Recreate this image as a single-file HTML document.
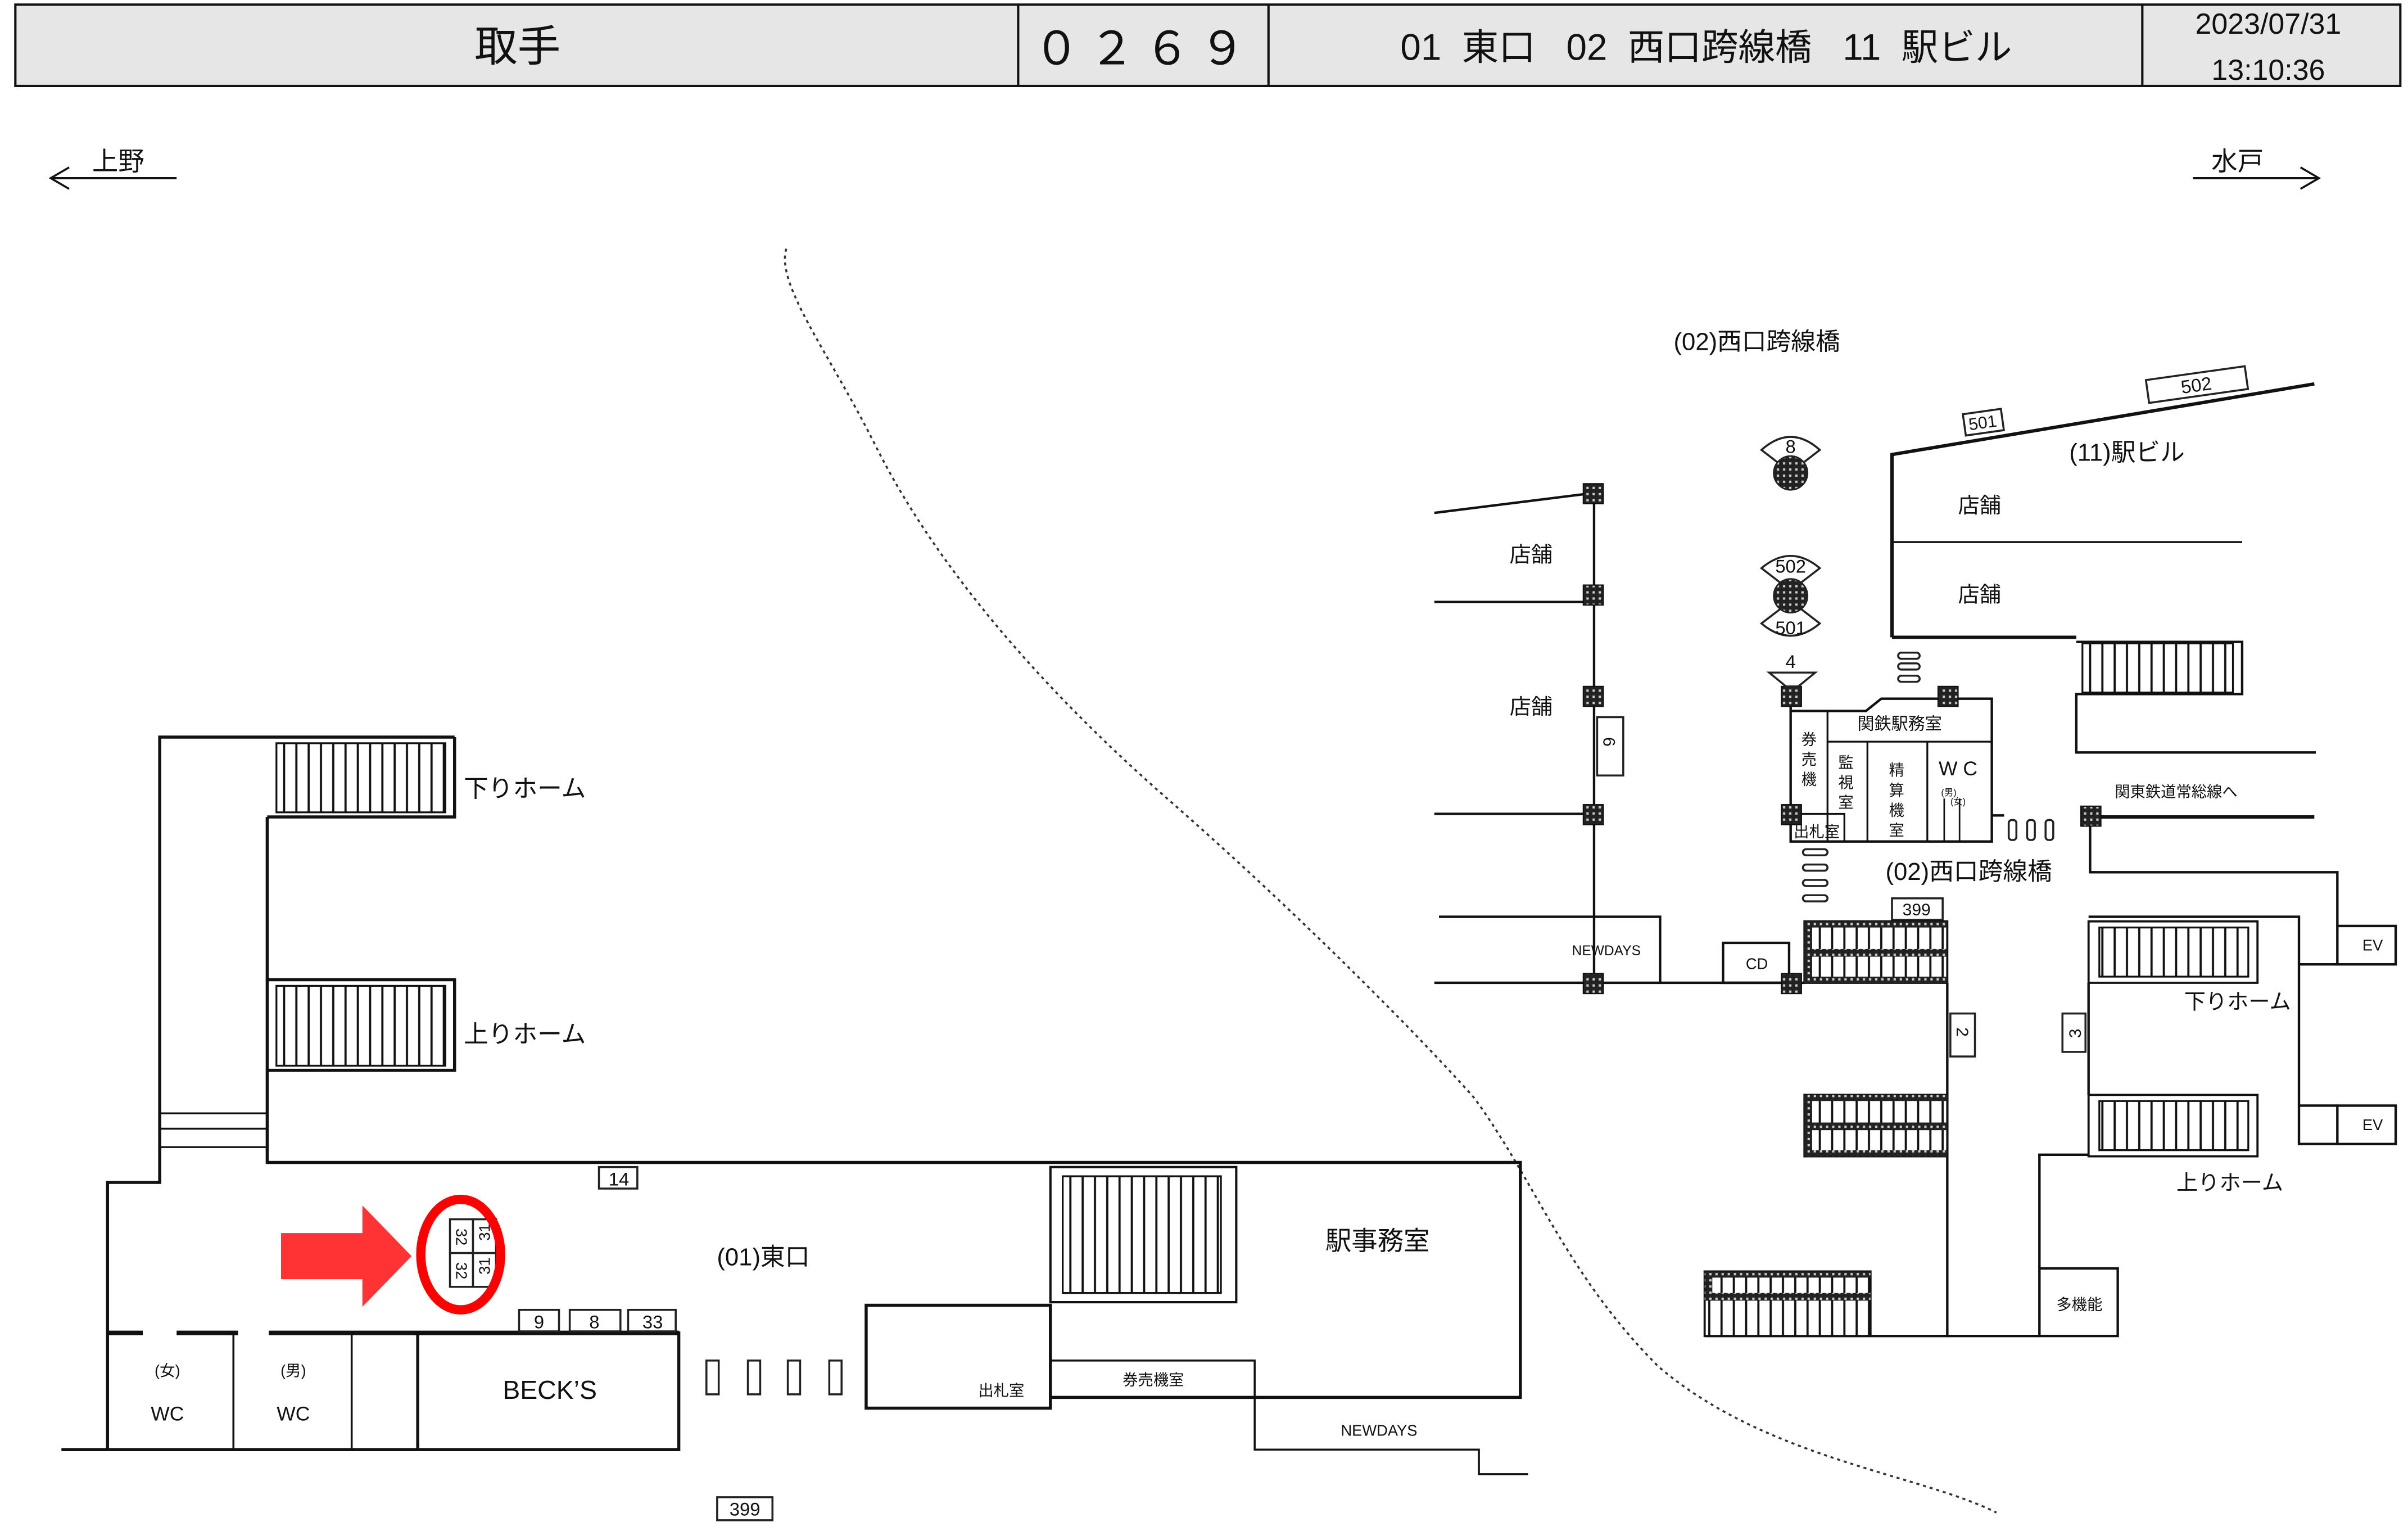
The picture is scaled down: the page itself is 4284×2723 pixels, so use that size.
<!DOCTYPE html>
<html><head><meta charset="utf-8"><style>
html,body{margin:0;padding:0;background:#fff;}
svg{display:block;}
text{font-family:"Liberation Sans","Noto Sans CJK JP",sans-serif;fill:#111;}
</style></head><body>
<svg width="4284" height="2723" viewBox="0 0 1568 997" preserveAspectRatio="none" xmlns="http://www.w3.org/2000/svg">
<defs>
<pattern id="st" width="8" height="10" patternUnits="userSpaceOnUse"><rect width="8" height="10" fill="#fff"/><line x1="1" y1="0" x2="1" y2="10" stroke="#111" stroke-width="1.4"/></pattern>
<pattern id="dk" width="4" height="4" patternUnits="userSpaceOnUse"><rect width="4" height="4" fill="#222"/><rect x="1" y="1" width="1.5" height="1.5" fill="#ccc"/></pattern>
</defs>
<rect width="1568" height="997" fill="#fff"/>
<!-- header -->
<rect x="10" y="3" width="1553" height="53" fill="#e6e6e6" stroke="#111" stroke-width="1.5"/>
<g stroke="#111" stroke-width="1.5"><line x1="663" y1="3" x2="663" y2="56"/><line x1="826" y1="3" x2="826" y2="56"/><line x1="1395" y1="3" x2="1395" y2="56"/></g>
<text x="337" y="40" font-size="28" text-anchor="middle">取手</text>
<text x="745" y="42" font-size="30" text-anchor="middle" letter-spacing="6">０２６９</text>
<text x="1111" y="39" font-size="24" text-anchor="middle" xml:space="preserve">01  東口   02  西口跨線橋   11  駅ビル</text>
<text x="1477" y="22" font-size="19" text-anchor="middle">2023/07/31</text>
<text x="1477" y="52" font-size="19" text-anchor="middle">13:10:36</text>
<!-- direction arrows -->
<g stroke="#111" stroke-width="1.3" fill="none">
<line x1="33" y1="116" x2="115" y2="116"/><polyline points="45,109 33,116 45,123"/>
<line x1="1428" y1="116" x2="1510" y2="116"/><polyline points="1498,109 1510,116 1498,123"/></g>
<text x="60" y="111" font-size="17">上野</text>
<text x="1440" y="111" font-size="17">水戸</text>
<!-- dotted curve -->
<path d="M512,162 C505,185 540,230 570,290 C610,370 680,450 760,520 C840,590 920,670 960,715 C1000,770 1020,830 1080,890 C1150,950 1250,960 1300,985" fill="none" stroke="#333" stroke-width="1.3" stroke-dasharray="2,2.5"/>
<!-- LEFT -->
<g stroke="#111" stroke-width="2" fill="none">
<polyline points="296,480 104,480 104,770 70,770 70,944"/>
<line x1="40" y1="944" x2="442" y2="944"/>
<polyline points="174,532 174,757 990,757 990,910 684,910"/>
<line x1="104" y1="725" x2="174" y2="725" stroke-width="1.2"/>
<line x1="104" y1="735" x2="174" y2="735" stroke-width="1.2"/>
<line x1="104" y1="747" x2="174" y2="747" stroke-width="1.2"/>
<polyline points="174,532 296,532 296,480"/>
<polyline points="174,638 296,638 296,697 174,697"/>
<line x1="70" y1="868" x2="93" y2="868" stroke-width="3"/>
<line x1="115" y1="868" x2="155" y2="868" stroke-width="3"/>
<line x1="175" y1="868" x2="442" y2="868" stroke-width="3"/>
<rect x="272" y="868" width="170" height="76"/>
<line x1="152" y1="868" x2="152" y2="944" stroke-width="1.3"/>
<line x1="229" y1="868" x2="229" y2="944" stroke-width="1.3"/>
<rect x="564" y="850" width="120" height="67"/>
<rect x="684" y="886" width="133" height="24" stroke-width="1.3"/>
<polyline points="817,910 817,944 963,944 963,960 995,960" stroke-width="1.3"/>
</g>
<rect x="180" y="484" width="110" height="45" fill="url(#st)" stroke="#111" stroke-width="1.2"/>
<rect x="180" y="642" width="110" height="52" fill="url(#st)" stroke="#111" stroke-width="1.2"/>
<rect x="684" y="760" width="121" height="88" fill="none" stroke="#111" stroke-width="1.5"/>
<rect x="692" y="766" width="103" height="76" fill="url(#st)" stroke="#111" stroke-width="1.2"/>
<text x="302" y="519" font-size="16">下りホーム</text>
<text x="302" y="679" font-size="16">上りホーム</text>
<g fill="#fff" stroke="#222" stroke-width="1.3">
<rect x="390" y="760" width="25" height="14"/><rect x="338" y="853" width="26" height="14"/><rect x="371" y="853" width="33" height="14"/><rect x="409" y="853" width="31" height="14"/>
<rect x="293" y="794" width="15" height="22"/><rect x="293" y="816" width="15" height="22"/><rect x="308" y="794" width="15" height="22"/><rect x="308" y="816" width="15" height="22"/>
<rect x="460" y="886" width="8" height="22"/><rect x="487" y="886" width="8" height="22"/><rect x="513" y="886" width="8" height="22"/><rect x="540" y="886" width="8" height="22"/>
<rect x="467" y="975" width="36" height="15"/>
</g>
<text x="403" y="772" font-size="12" text-anchor="middle">14</text>
<text x="351" y="865" font-size="12" text-anchor="middle">9</text>
<text x="387" y="865" font-size="12" text-anchor="middle">8</text>
<text x="425" y="865" font-size="12" text-anchor="middle">33</text>
<text x="485" y="987" font-size="12" text-anchor="middle">399</text>
<text font-size="10" transform="translate(297,800) rotate(90)">32</text>
<text font-size="10" transform="translate(297,822) rotate(90)">32</text>
<text font-size="10" transform="translate(319,808) rotate(-90)">31</text>
<text font-size="10" transform="translate(319,830) rotate(-90)">31</text>
<polygon points="183,803 236,803 236,785 268,818 236,851 236,833 183,833" fill="#f33"/>
<ellipse cx="300" cy="817" rx="26" ry="36" fill="none" stroke="#f00" stroke-width="6"/>
<text x="109" y="896" font-size="10" text-anchor="middle">(女)</text>
<text x="191" y="896" font-size="10" text-anchor="middle">(男)</text>
<text x="109" y="925" font-size="13" text-anchor="middle">WC</text>
<text x="191" y="925" font-size="13" text-anchor="middle">WC</text>
<text x="358" y="911" font-size="17" text-anchor="middle">BECK’S</text>
<text x="497" y="824" font-size="16" text-anchor="middle">(01)東口</text>
<text x="897" y="814" font-size="17" text-anchor="middle">駅事務室</text>
<text x="652" y="909" font-size="10" text-anchor="middle">出札室</text>
<text x="751" y="902" font-size="10" text-anchor="middle">券売機室</text>
<text x="898" y="935" font-size="10" text-anchor="middle">NEWDAYS</text>
<!-- RIGHT -->
<text x="1144" y="228" font-size="16" text-anchor="middle">(02)西口跨線橋</text>
<g stroke="#111" stroke-width="1.6" fill="none">
<line x1="1038" y1="321" x2="1038" y2="640"/>
<line x1="934" y1="334" x2="1038" y2="321"/>
<line x1="934" y1="392" x2="1038" y2="392"/>
<line x1="934" y1="530" x2="1038" y2="530"/>
<line x1="934" y1="640" x2="1175" y2="640"/>
<polyline points="937,597 1081,597 1081,640"/>
<rect x="1122" y="614" width="43" height="26"/>
<polyline points="1232,415 1232,296 1507,250" stroke-width="2.2"/>
<line x1="1232" y1="415" x2="1352" y2="415" stroke-width="2.2"/>
<line x1="1232" y1="353" x2="1460" y2="353" stroke-width="1.3"/>
<polyline points="1352,418 1460,418 1460,452 1352,452 1352,490 1508,490"/>
<line x1="1361" y1="532" x2="1507" y2="532" stroke-width="2.2"/>
<polyline points="1361,532 1361,568 1522,568 1522,603"/>
<polyline points="1166,455 1166,548 1297,548 1297,455 1225,455 1215,463 1166,463"/>
<line x1="1190" y1="463" x2="1190" y2="548" stroke-width="1.2"/>
<line x1="1190" y1="483" x2="1297" y2="483" stroke-width="1.2"/>
<line x1="1216" y1="483" x2="1216" y2="548" stroke-width="1.2"/>
<line x1="1255" y1="483" x2="1255" y2="548" stroke-width="1.2"/>
<line x1="1266" y1="520" x2="1266" y2="548" stroke-width="1"/>
<line x1="1276" y1="520" x2="1276" y2="548" stroke-width="1"/>
<rect x="1166" y="530" width="35" height="18" stroke-width="1.2"/>
<polyline points="1297,531 1305,531"/>
<polyline points="1268,640 1268,870 1110,870"/>
<line x1="1268" y1="870" x2="1328" y2="870"/>
<polyline points="1360,597 1497,597 1497,745 1522,745"/>
<polyline points="1360,640 1360,713"/>
<polyline points="1360,752 1328,752 1328,826"/>
<rect x="1328" y="826" width="51" height="44"/>
<rect x="1522" y="603" width="38" height="25"/>
<rect x="1522" y="720" width="38" height="25"/>
<line x1="1497" y1="628" x2="1522" y2="628"/><line x1="1497" y1="720" x2="1522" y2="720"/>
</g>
<g fill="#fff" stroke="#222" stroke-width="1.3">
<rect x="1040" y="467" width="17" height="38"/><rect x="1270" y="660" width="16" height="28"/><rect x="1343" y="660" width="15" height="25"/>
<rect x="1232" y="585" width="33" height="14"/>
<rect x="1279" y="268" width="25" height="14" transform="rotate(-8 1291 275)"/>
<rect x="1398" y="243" width="65" height="15" transform="rotate(-8 1430 250)"/>
<rect x="1308" y="534" width="5" height="13" rx="2"/><rect x="1320" y="534" width="5" height="13" rx="2"/><rect x="1332" y="534" width="5" height="13" rx="2"/>
<rect x="1236" y="425" width="14" height="4" rx="2"/><rect x="1236" y="432" width="14" height="4" rx="2"/><rect x="1236" y="440" width="14" height="4" rx="2"/>
<rect x="1174" y="553" width="16" height="4" rx="2"/><rect x="1174" y="563" width="16" height="4" rx="2"/><rect x="1174" y="573" width="16" height="4" rx="2"/><rect x="1174" y="583" width="16" height="4" rx="2"/>
</g>
<text font-size="11" transform="translate(1044,480) rotate(90)">6</text>
<text font-size="11" transform="translate(1274,669) rotate(90)">2</text>
<text font-size="11" transform="translate(1355,676) rotate(-90)">3</text>
<text x="1248" y="596" font-size="11" text-anchor="middle">399</text>
<text x="1291" y="279" font-size="11" text-anchor="middle" transform="rotate(-8 1291 275)">501</text>
<text x="1430" y="255" font-size="12" text-anchor="middle" transform="rotate(-8 1430 250)">502</text>
<!-- stairs right -->
<rect x="1175" y="600" width="93" height="40" fill="url(#st)" stroke="#111" stroke-width="1.4"/>
<rect x="1175" y="600" width="93" height="4" fill="url(#dk)"/><rect x="1175" y="618" width="93" height="5" fill="url(#dk)"/><rect x="1175" y="636" width="93" height="4" fill="url(#dk)"/><rect x="1175" y="600" width="5" height="40" fill="url(#dk)"/>
<rect x="1175" y="713" width="93" height="40" fill="url(#st)" stroke="#111" stroke-width="1.4"/>
<rect x="1175" y="713" width="93" height="4" fill="url(#dk)"/><rect x="1175" y="731" width="93" height="5" fill="url(#dk)"/><rect x="1175" y="749" width="93" height="4" fill="url(#dk)"/><rect x="1175" y="713" width="5" height="40" fill="url(#dk)"/>
<rect x="1110" y="828" width="108" height="42" fill="url(#st)" stroke="#111" stroke-width="1.4"/>
<rect x="1110" y="828" width="108" height="4" fill="url(#dk)"/><rect x="1110" y="842" width="108" height="5" fill="url(#dk)"/><rect x="1110" y="828" width="5" height="19" fill="url(#dk)"/>
<rect x="1360" y="600" width="110" height="40" fill="none" stroke="#111" stroke-width="1.4"/>
<rect x="1367" y="604" width="97" height="32" fill="url(#st)" stroke="#111" stroke-width="1.2"/>
<rect x="1360" y="713" width="110" height="40" fill="none" stroke="#111" stroke-width="1.4"/>
<rect x="1367" y="717" width="97" height="32" fill="url(#st)" stroke="#111" stroke-width="1.2"/>
<rect x="1356" y="419" width="98" height="32" fill="url(#st)" stroke="#111" stroke-width="1.2"/>
<!-- dark squares -->
<g fill="url(#dk)" stroke="#111" stroke-width="0.8">
<rect x="1031" y="315" width="13" height="13"/><rect x="1031" y="381" width="13" height="13"/><rect x="1031" y="447" width="13" height="13"/><rect x="1031" y="524" width="13" height="13"/><rect x="1031" y="634" width="13" height="13"/>
<rect x="1160" y="447" width="13" height="13"/><rect x="1160" y="524" width="13" height="13"/><rect x="1160" y="634" width="13" height="13"/><rect x="1262" y="447" width="13" height="13"/><rect x="1355" y="525" width="13" height="13"/>
</g>
<!-- signs -->
<g stroke="#222" stroke-width="1.3" fill="#fff">
<path d="M1147,293 Q1166,276 1185,293 L1172,303 Q1166,298 1160,303 Z"/>
<path d="M1147,370 Q1166,354 1185,370 L1172,380 Q1166,375 1160,380 Z"/>
<path d="M1147,406 Q1166,422 1185,406 L1172,396 Q1166,401 1160,396 Z"/>
<path d="M1152,438 L1182,438 L1171,447 L1163,447 Z"/>
</g>
<g fill="url(#dk)" stroke="#222"><ellipse cx="1166" cy="308" rx="11" ry="11"/><ellipse cx="1166" cy="388" rx="11" ry="11"/></g>
<text x="1166" y="295" font-size="12" text-anchor="middle">8</text>
<text x="1166" y="373" font-size="12" text-anchor="middle">502</text>
<text x="1166" y="413" font-size="12" text-anchor="middle">501</text>
<text x="1166" y="435" font-size="12" text-anchor="middle">4</text>
<text x="997" y="366" font-size="14" text-anchor="middle">店舗</text>
<text x="997" y="465" font-size="14" text-anchor="middle">店舗</text>
<text x="1289" y="334" font-size="14" text-anchor="middle">店舗</text>
<text x="1289" y="392" font-size="14" text-anchor="middle">店舗</text>
<text x="1385" y="300" font-size="16" text-anchor="middle">(11)駅ビル</text>
<text x="1237" y="475" font-size="11" text-anchor="middle">関鉄駅務室</text>
<text x="1178" y="485" font-size="10" text-anchor="middle">券</text><text x="1178" y="498" font-size="10" text-anchor="middle">売</text><text x="1178" y="511" font-size="10" text-anchor="middle">機</text>
<text x="1202" y="500" font-size="10" text-anchor="middle">監</text><text x="1202" y="513" font-size="10" text-anchor="middle">視</text><text x="1202" y="526" font-size="10" text-anchor="middle">室</text>
<text x="1235" y="505" font-size="10" text-anchor="middle">精</text><text x="1235" y="518" font-size="10" text-anchor="middle">算</text><text x="1235" y="531" font-size="10" text-anchor="middle">機</text><text x="1235" y="544" font-size="10" text-anchor="middle">室</text>
<text x="1275" y="505" font-size="13" text-anchor="middle">W C</text>
<text x="1264" y="518" font-size="6">(男)</text><text x="1270" y="524" font-size="6">(女)</text>
<text x="1183" y="545" font-size="10" text-anchor="middle">出札室</text>
<text x="1282" y="573" font-size="16" text-anchor="middle">(02)西口跨線橋</text>
<text x="1417" y="519" font-size="10" text-anchor="middle">関東鉄道常総線へ</text>
<text x="1046" y="622" font-size="9" text-anchor="middle">NEWDAYS</text>
<text x="1144" y="631" font-size="10" text-anchor="middle">CD</text>
<text x="1545" y="619" font-size="10" text-anchor="middle">EV</text>
<text x="1545" y="736" font-size="10" text-anchor="middle">EV</text>
<text x="1457" y="657" font-size="14" text-anchor="middle">下りホーム</text>
<text x="1452" y="775" font-size="14" text-anchor="middle">上りホーム</text>
<text x="1354" y="853" font-size="10" text-anchor="middle">多機能</text>
</svg>
</body></html>
